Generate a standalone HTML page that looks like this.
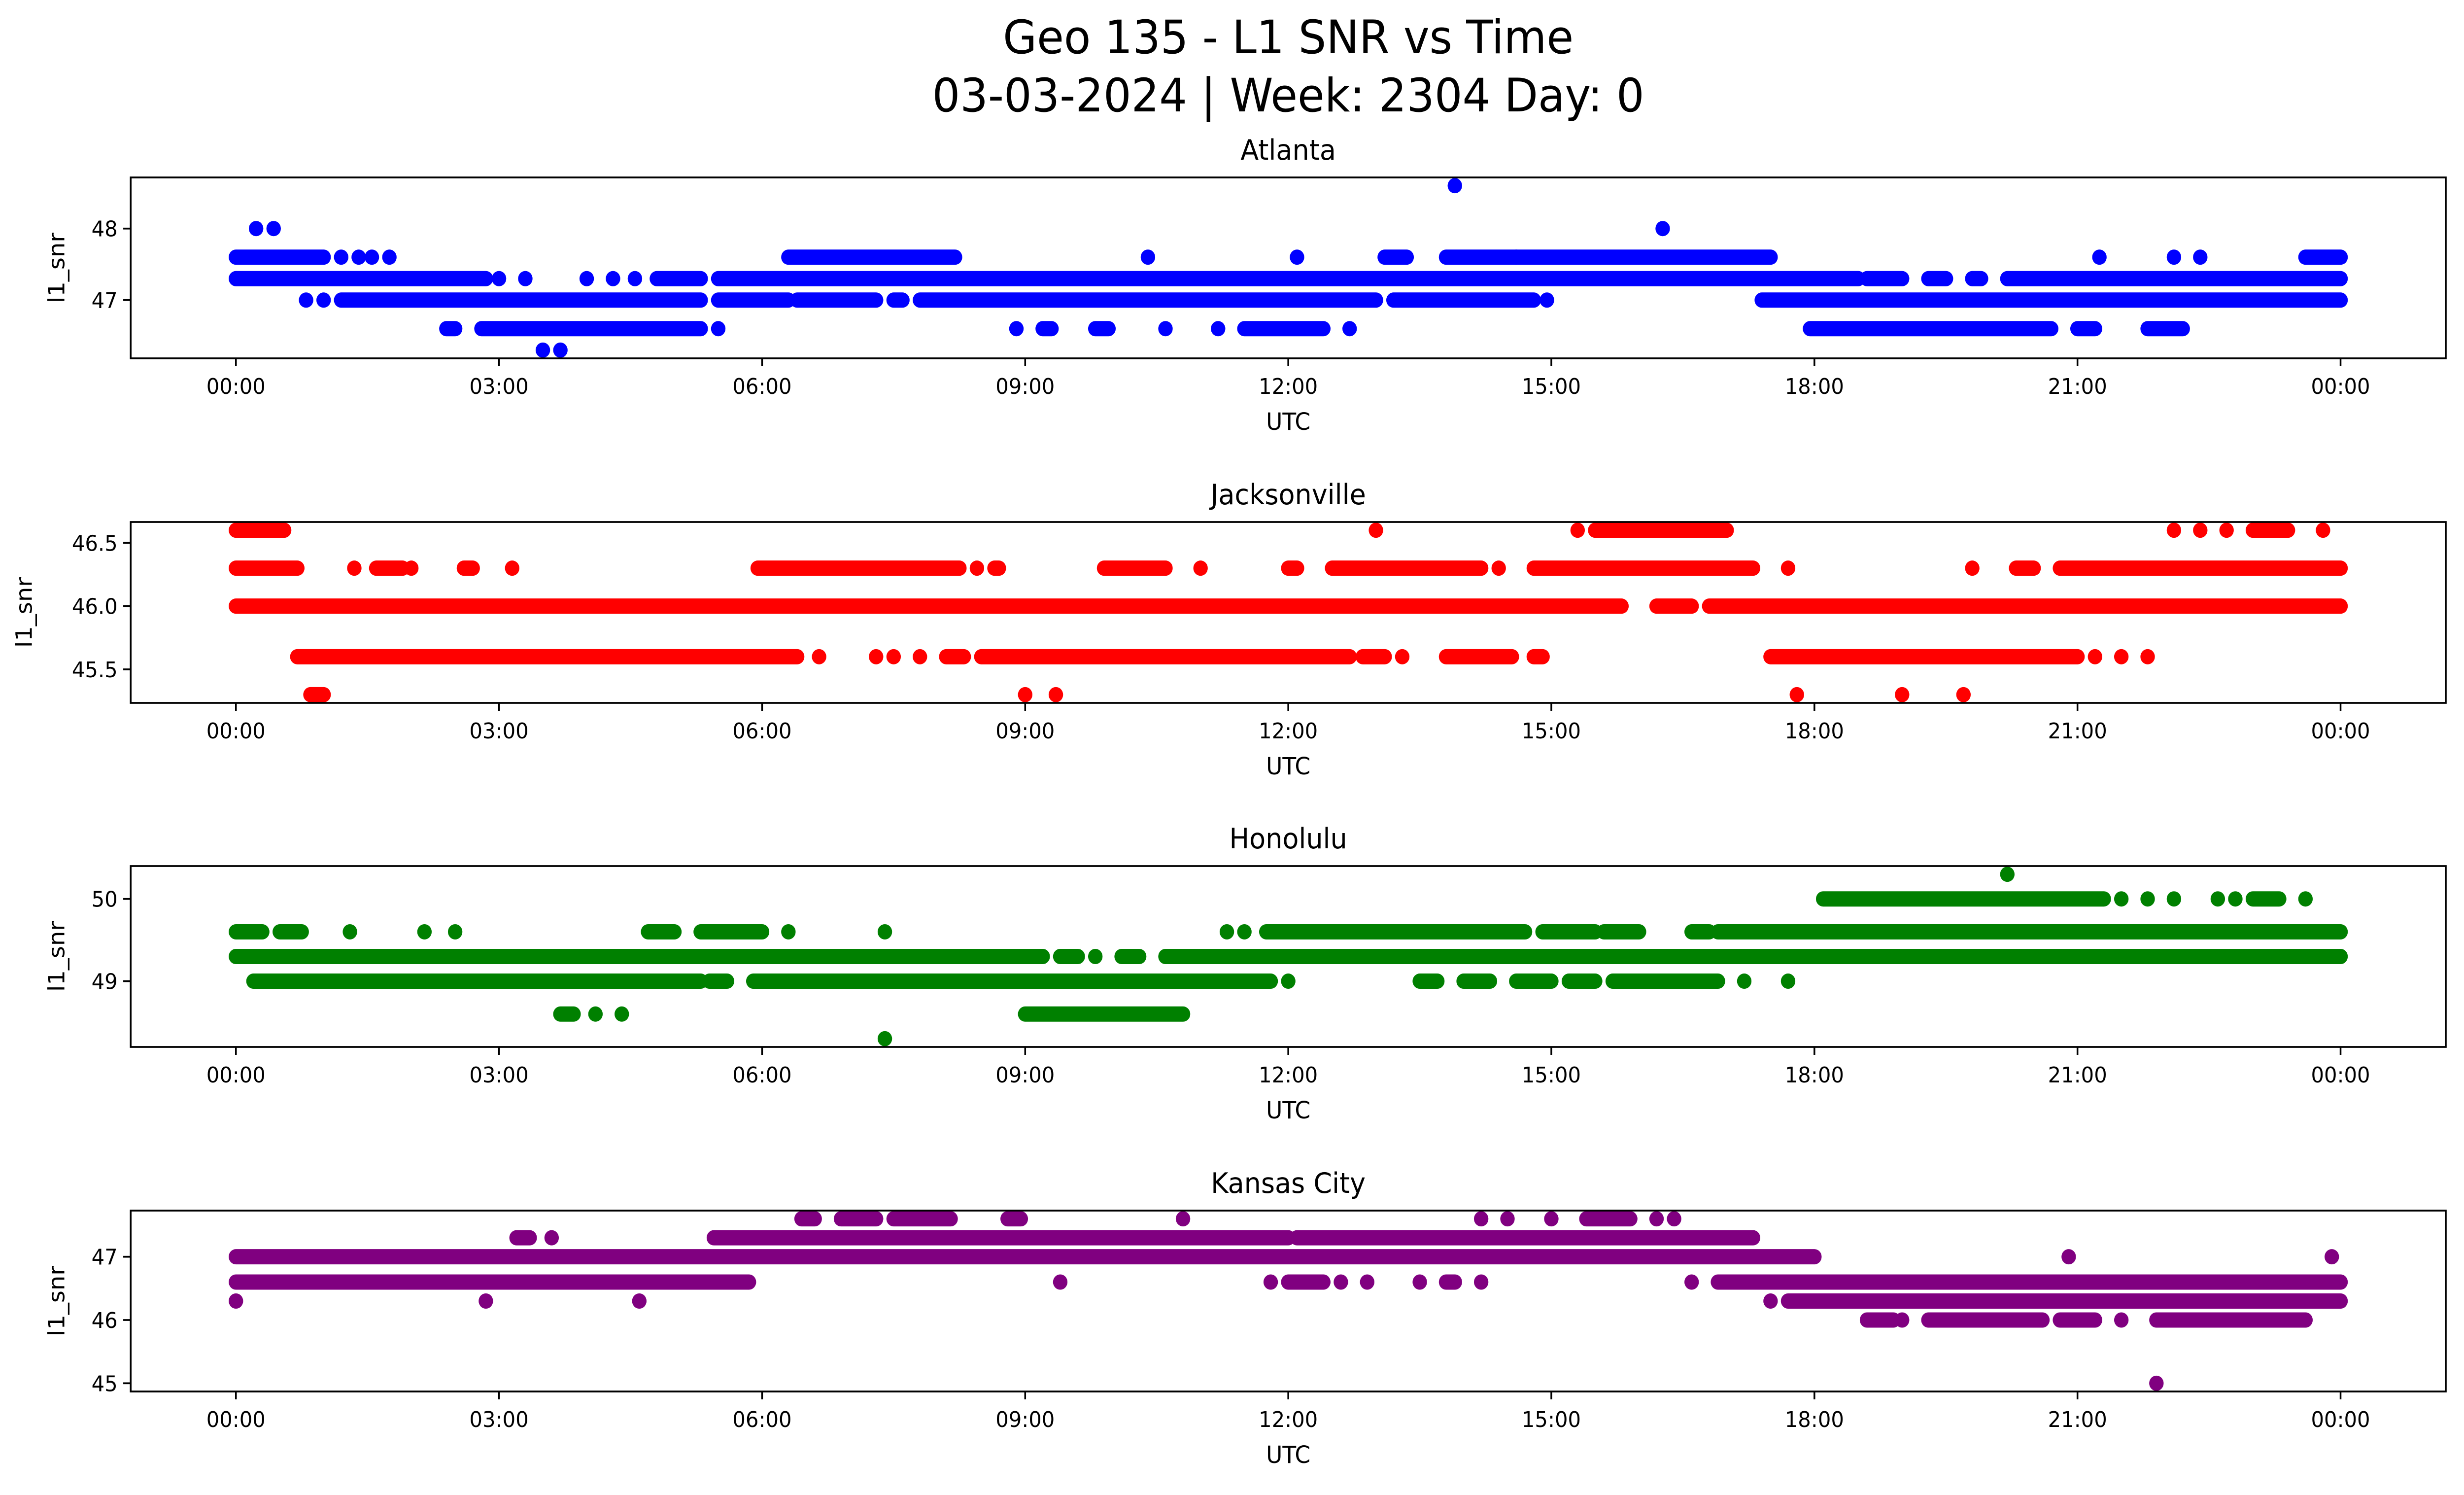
<!DOCTYPE html>
<html><head><meta charset="utf-8"><style>
html,body{margin:0;padding:0;background:#fff;width:100%;height:100%;overflow:hidden;}
svg{display:block;position:absolute;left:0;top:0;width:100vw;height:100vh;font-family:"DejaVu Sans","Liberation Sans",sans-serif;}
</style></head><body>
<svg id="fig" viewBox="0 0 5279 3033" preserveAspectRatio="none" xmlns="http://www.w3.org/2000/svg">
<rect width="5279" height="3033" fill="#fff"/>
<text x="2760" y="108" font-size="94" text-anchor="middle">Geo 135 - L1 SNR vs Time</text>
<text x="2760" y="226" font-size="94" text-anchor="middle">03-03-2024 | Week: 2304 Day: 0</text>
</svg>
<script>
// ---- data (hours UTC, SNR levels, runs of observations) ----
const xTickLabels=["00:00","03:00","06:00","09:00","12:00","15:00","18:00","21:00","00:00"];
const xTickHours=[0,3,6,9,12,15,18,21,24];

const atlLevels=[48.6,48.0,47.6,47.3,47.0,46.6,46.3];
const atlRuns=[
 [[13.9,13.9]],
 [[0.23,0.23],[0.43,0.43],[16.27,16.27]],
 [[0,1.0],[1.2,1.2],[1.4,1.4],[1.55,1.55],[1.75,1.75],[6.3,8.2],[10.4,10.4],[12.1,12.1],[13.1,13.35],[13.8,14.6],[14.6,17.5],[21.25,21.25],[22.1,22.1],[22.4,22.4],[23.6,24]],
 [[0,2.85],[3.0,3.0],[3.3,3.3],[4.0,4.0],[4.3,4.3],[4.55,4.55],[4.8,5.3],[5.5,18.5],[18.6,19.0],[19.3,19.5],[19.8,19.9],[20.2,24]],
 [[0.8,0.8],[1.0,1.0],[1.2,5.3],[5.5,6.3],[6.4,7.3],[7.5,7.6],[7.8,13.0],[13.2,14.8],[14.95,14.95],[17.4,24]],
 [[2.4,2.5],[2.8,5.3],[5.5,5.5],[8.9,8.9],[9.2,9.3],[9.8,9.95],[10.6,10.6],[11.2,11.2],[11.5,12.4],[12.7,12.7],[17.95,20.7],[21.0,21.2],[21.8,22.2]],
 [[3.5,3.5],[3.7,3.7]]
];
const atlTicks=[47,48];

const jaxLevels=[46.6,46.3,46.0,45.6,45.3];
const jaxRuns=[
 [[0,0.55],[13.0,13.0],[15.3,15.3],[15.5,17.0],[22.1,22.1],[22.4,22.4],[22.7,22.7],[23.0,23.4],[23.8,23.8]],
 [[0,0.7],[1.35,1.35],[1.6,1.9],[2.0,2.0],[2.6,2.7],[3.15,3.15],[5.95,8.25],[8.45,8.45],[8.65,8.7],[9.9,10.6],[11.0,11.0],[12.0,12.1],[12.5,14.2],[14.4,14.4],[14.8,17.3],[17.7,17.7],[19.8,19.8],[20.3,20.5],[20.8,24]],
 [[0,15.8],[16.2,16.6],[16.8,24]],
 [[0.7,6.4],[6.65,6.65],[7.3,7.3],[7.5,7.5],[7.8,7.8],[8.1,8.3],[8.5,12.7],[12.85,13.1],[13.3,13.3],[13.8,14.55],[14.8,14.9],[17.5,21.0],[21.2,21.2],[21.5,21.5],[21.8,21.8]],
 [[0.85,1.0],[9.0,9.0],[9.35,9.35],[17.8,17.8],[19.0,19.0],[19.7,19.7]]
];
const jaxTicks=[45.5,46.0,46.5];

const hnlLevels=[50.3,50.0,49.6,49.3,49.0,48.6,48.3];
const hnlRuns=[
 [[20.2,20.2]],
 [[18.1,21.3],[21.5,21.5],[21.8,21.8],[22.1,22.1],[22.6,22.6],[22.8,22.8],[23.0,23.3],[23.6,23.6]],
 [[0,0.3],[0.5,0.75],[1.3,1.3],[2.15,2.15],[2.5,2.5],[4.7,5.0],[5.3,6.0],[6.3,6.3],[7.4,7.4],[11.3,11.3],[11.5,11.5],[11.75,14.7],[14.9,15.5],[15.6,16.0],[16.6,16.8],[16.9,24]],
 [[0,9.2],[9.4,9.6],[9.8,9.8],[10.1,10.3],[10.6,24]],
 [[0.2,5.3],[5.4,5.6],[5.9,11.8],[12.0,12.0],[13.5,13.7],[14.0,14.3],[14.6,15.0],[15.2,15.5],[15.7,16.9],[17.2,17.2],[17.7,17.7]],
 [[3.7,3.85],[4.1,4.1],[4.4,4.4],[9.0,10.8]],
 [[7.4,7.4]]
];
const hnlTicks=[49,50];

const kcLevels=[47.6,47.3,47.0,46.6,46.3,46.0,45.0];
const kcRuns=[
 [[6.45,6.6],[6.9,7.3],[7.5,8.15],[8.8,8.95],[10.8,10.8],[14.2,14.2],[14.5,14.5],[15.0,15.0],[15.4,15.9],[16.2,16.2],[16.4,16.4]],
 [[3.2,3.35],[3.6,3.6],[5.45,12.0],[12.1,17.3]],
 [[0,18.0],[20.9,20.9],[23.9,23.9]],
 [[0,5.85],[9.4,9.4],[11.8,11.8],[12.0,12.4],[12.6,12.6],[12.9,12.9],[13.5,13.5],[13.8,13.9],[14.2,14.2],[16.6,16.6],[16.9,24]],
 [[0,0],[2.85,2.85],[4.6,4.6],[17.5,17.5],[17.7,24]],
 [[18.6,18.9],[19.0,19.0],[19.3,20.6],[20.8,21.2],[21.5,21.5],[21.9,23.6]],
 [[21.9,21.9]]
];
const kcTicks=[45,46,47];

const panelNames=["Atlanta","Jacksonville","Honolulu","Kansas City"];
const panelColors=["#0000ff","#ff0000","#008000","#800080"];

// ---- layout ----
const NS="http://www.w3.org/2000/svg";
const svg=document.getElementById("fig");
const L=280,R=5240,H=367;
const tops=[360,1059,1757,2456];
const x0=L+(R-L)*0.05/1.1, x1=R-(R-L)*0.05/1.1;
function xScale(h){return x0+(x1-x0)*h/24;}
function mk(tag,attrs,parent){const e=document.createElementNS(NS,tag);for(const k in attrs)e.setAttribute(k,attrs[k]);(parent||svg).appendChild(e);return e;}

function drawPanel(i,levels,runs,ticks){
  const top=tops[i],bot=top+H;
  const g=mk("g",{});
  
  
  let mn=Infinity,mx=-Infinity;
  levels.forEach((v,k)=>{if(runs[k].length){mn=Math.min(mn,v);mx=Math.max(mx,v);}});
  const pad=(mx-mn)*0.05; const y0=mn-pad,y1=mx+pad;
  const yScale=v=>bot-(v-y0)/(y1-y0)*H;
  const clip=mk("clipPath",{id:"c"+i},g);
  mk("rect",{x:L,y:top,width:R-L,height:H},clip);
  const pts=mk("g",{"clip-path":"url(#c"+i+")"},g);
  levels.forEach((v,k)=>{
    runs[k].forEach(r=>{
      const ln=mk("line",{x1:xScale(r[0]),x2:xScale(r[1]),y1:yScale(v),y2:yScale(v),stroke:panelColors[i],"stroke-width":31,"stroke-linecap":"round"},pts);
      
      
    });
  });
  const fr=mk("rect",{x:L,y:top,width:R-L,height:H,fill:"none",stroke:"#000","stroke-width":3.7},g);
  
  
  xTickHours.forEach((h,k)=>{
    const x=xScale(h);
    mk("line",{x1:x,x2:x,y1:bot,y2:bot+16,stroke:"#000","stroke-width":3.7},g);
    const t=mk("text",{x:x,y:bot+72,"font-size":44,"text-anchor":"middle"},g);
    t.textContent=xTickLabels[k];
    
    
  });
  ticks.forEach(v=>{
    const y=yScale(v);
    mk("line",{x1:L-16,x2:L,y1:y,y2:y,stroke:"#000","stroke-width":3.7},g);
    const t=mk("text",{x:L-28,y:y+16,"font-size":44,"text-anchor":"end"},g);
    t.textContent=ticks.some(q=>q%1!==0)?v.toFixed(1):String(v);
    
    
  });
  const xl=mk("text",{x:(L+R)/2,y:bot+145,"font-size":48,"text-anchor":"middle"},g);
  xl.textContent="UTC";
  
  
  const yl=mk("text",{x:0,y:0,"font-size":48,"text-anchor":"middle",transform:"translate("+(i==1?68:138)+","+(top+H/2)+") rotate(-90)"},g);
  yl.textContent="l1_snr";
  
  
  const tt=mk("text",{x:(L+R)/2,y:top-36,"font-size":57,"text-anchor":"middle"},g);
  tt.textContent=panelNames[i];
  
  
}
drawPanel(0,atlLevels,atlRuns,atlTicks);
drawPanel(1,jaxLevels,jaxRuns,jaxTicks);
drawPanel(2,hnlLevels,hnlRuns,hnlTicks);
drawPanel(3,kcLevels,kcRuns,kcTicks);
</script>
</body></html>
